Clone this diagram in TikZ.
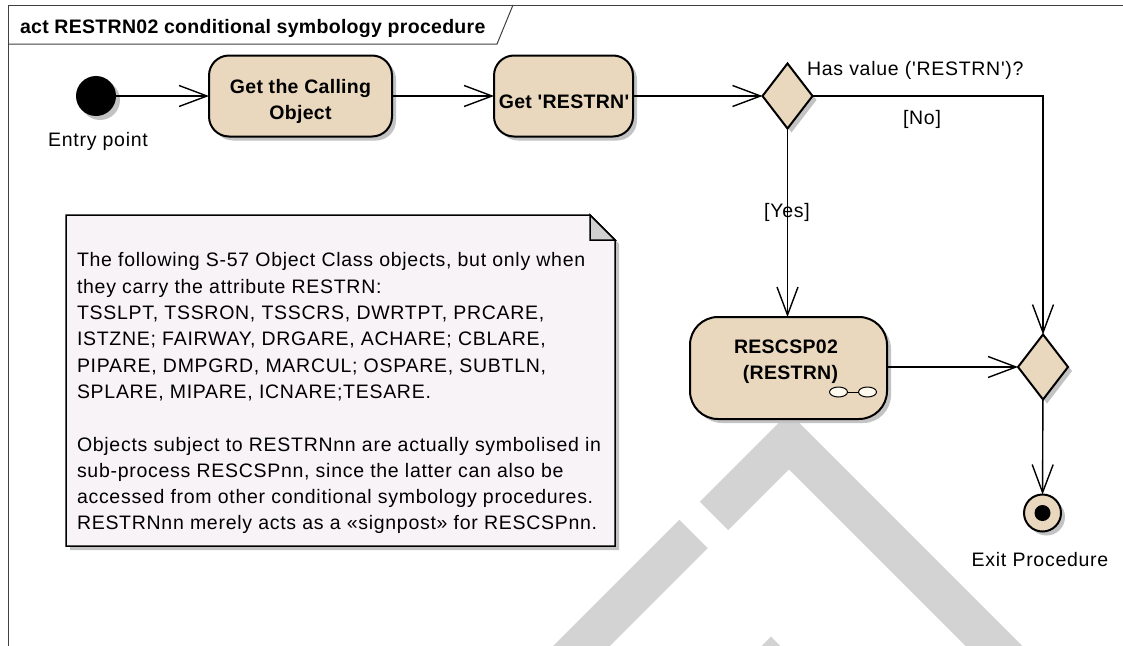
\documentclass[tikz,border=0pt]{standalone}
\usetikzlibrary{arrows.meta,shapes.geometric,shadows}
\font\regfont="Liberation Sans:letterspace=3.7" at 19.5pt
\font\boldfont="Liberation Sans/B:letterspace=1.5" at 19.5pt
\definecolor{act}{RGB}{233,216,190}
\definecolor{notefill}{RGB}{247,243,247}
\definecolor{shadc}{RGB}{195,195,195}
\definecolor{wmgray}{RGB}{211,211,211}
\definecolor{foldc}{RGB}{208,208,208}
\definecolor{rakefill}{RGB}{255,250,238}
\begin{document}
\begin{tikzpicture}[x=1pt,y=-1pt,
  every node/.style={inner sep=0pt, outer sep=0pt},
  reg/.style={font={\regfont\baselineskip=26.3pt\relax}},
  bld/.style={font={\boldfont\baselineskip=26pt\relax}},
  withshadow/.style={general shadow={fill=shadc, shadow xshift=4pt, shadow yshift=-4pt}},
  actbox/.style={rectangle, draw, line width=2pt, fill=act, rounded corners=20pt, withshadow},
  dec/.style={diamond, draw, line width=2pt, fill=act, withshadow},
  flow/.style={line width=1.4pt, -{Straight Barb[length=28pt,width=21pt]}},
  wm/.style={draw=wmgray, line width=40pt, line join=miter, line cap=butt},
  framel/.style={draw=black!75, line width=1pt}]
\useasboundingbox (0,0) rectangle (1123,645);
\fill[white] (0,0) rectangle (1123,645);
% watermark
\begin{scope}
\clip (0,0) rectangle (1123,645);
\draw[wm] (714,516) -- (789,441) -- (1030,682);
\draw[wm] (693.5,534) -- (560,667.5);
\draw[wm] (700,736) -- (771,665) -- (842,736);
\end{scope}
% frame
\draw[framel] (8,650) -- (8,5) -- (1130,5);
\draw[framel] (8,44) -- (497,44) -- (513,5);
\node[bld, anchor=base west] (title) at (20,33) {act RESTRN02 conditional symbology procedure};
% initial
\node[circle, fill=black, minimum size=40pt, withshadow] (init) at (96,96) {};
\node[reg, anchor=base] (entry) at (98,146) {Entry point};
% actions
\node[actbox, minimum width=183pt, minimum height=81pt] (a1) at (300.5,96) {};
\node[bld, align=center, anchor=north] (a1t) at (300.5,79.8) {Get the Calling\\Object};
\node[actbox, minimum width=139pt, minimum height=81pt] (a2) at (563.5,96) {};
\node[bld, anchor=base] (a2t) at (564,108) {Get 'RESTRN'};
% decision
\node[dec, minimum width=50pt, minimum height=65pt] (d1) at (787.5,96) {};
\node[reg, anchor=base west] (q) at (807,75) {Has value ('RESTRN')?};
% sub activity
\node[actbox, rounded corners=28pt, minimum width=197pt, minimum height=102pt] (sub) at (788.5,368) {};
\node[bld, align=center, anchor=north] (subt) at (786,339.8) {RESCSP02\\\hspace*{9pt}(RESTRN)};
\node[ellipse, draw, line width=1pt, fill=rakefill, minimum width=18pt, minimum height=10pt] (rk1) at (838.5,392) {};
\node[ellipse, draw, line width=1pt, fill=rakefill, minimum width=18pt, minimum height=10pt] (rk2) at (867.5,392) {};
\draw[line width=1pt] (rk1) -- (rk2);
% merge and final
\node[dec, minimum width=50pt, minimum height=65pt] (m1) at (1043,367) {};
\node[circle, draw, line width=2pt, fill=act, minimum size=37pt, withshadow] (fin) at (1042.5,513) {};
\node[circle, fill=black, minimum size=16pt] (findot) at (fin.center) {};
\node[reg, anchor=base] (exitl) at (1040,566) {Exit Procedure};
% note
\draw[line width=1.5pt, fill=notefill, line join=miter, withshadow] (66,215) -- (590,215) -- (615,240) -- (615,546) -- (66,546) -- cycle;
\draw[line width=1.5pt, fill=foldc, line join=miter] (590,215) -- (615,240) -- (590,240) -- cycle;
\node[reg, align=left, anchor=north west] (notetext) at (77,252.8) {The following S-57 Object Class objects, but only when\\they carry the attribute RESTRN:\\TSSLPT, TSSRON, TSSCRS, DWRTPT, PRCARE,\\ISTZNE; FAIRWAY, DRGARE, ACHARE; CBLARE,\\PIPARE, DMPGRD, MARCUL; OSPARE, SUBTLN,\\SPLARE, MIPARE, ICNARE;TESARE.\\[26.3pt]Objects subject to RESTRNnn are actually symbolised in\\sub-process RESCSPnn, since the latter can also be\\accessed from other conditional symbology procedures.\\RESTRNnn merely acts as a «signpost» for RESCSPnn.};
% flows
\draw[flow] (init) -- (a1);
\draw[flow] (a1) -- (a2);
\draw[flow] (a2) -- (d1);
\draw[flow] (d1.east) -| (m1.north);
\node[reg, anchor=base] (nolab) at (922,124) {[No]};
\draw[flow] (d1.south) -- (d1.south |- sub.north);
\node[reg, anchor=base] (yeslab) at (787,217) {[Yes]};
\draw[flow] (sub.east |- m1.west) -- (m1.west);
\draw[flow] (m1) -- (fin);
\end{tikzpicture}
\end{document}
